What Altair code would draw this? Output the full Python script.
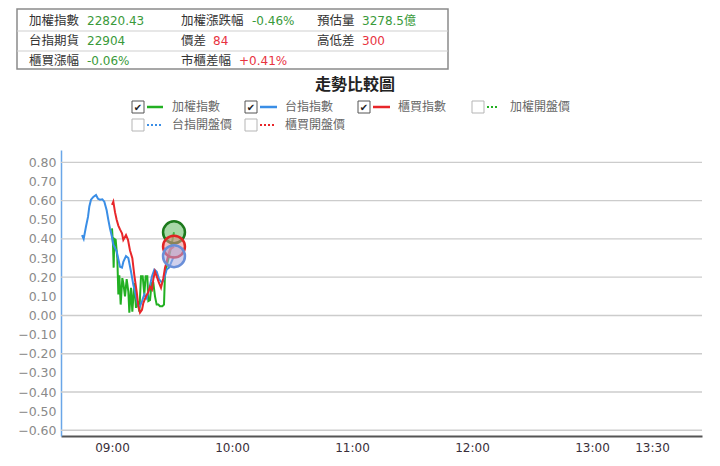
import altair as alt
import pandas as pd

# ---------------- data ----------------
DATE = "2024-01-02T"

# 台指指數 (blue)
blue_t = ["08:45:00", "08:45:50", "08:47:00", "08:48:00", "08:48:40", "08:49:30", "08:50:40", "08:52:00",
          "08:53:00", "08:54:00", "08:55:10", "08:56:10", "08:57:20", "08:58:10", "08:59:00", "09:00:00",
          "09:00:40", "09:02:20", "09:04:00", "09:05:00", "09:05:40", "09:07:00", "09:08:10", "09:09:30",
          "09:10:40", "09:12:00", "09:13:00", "09:13:40", "09:15:00", "09:16:10", "09:17:20", "09:18:30",
          "09:20:00", "09:21:10", "09:22:20", "09:23:30", "09:25:00", "09:26:10", "09:27:20", "09:28:30",
          "09:29:30", "09:31:00"]
blue_v = [0.42, 0.40, 0.465, 0.515, 0.57, 0.605, 0.62, 0.63, 0.61, 0.605, 0.607, 0.595, 0.55, 0.50, 0.455,
          0.41, 0.37, 0.335, 0.255, 0.25, 0.28, 0.31, 0.30, 0.23, 0.16, 0.10, 0.057, 0.04, 0.075, 0.11,
          0.09, 0.135, 0.205, 0.24, 0.23, 0.19, 0.17, 0.195, 0.24, 0.25, 0.275, 0.31]

# 櫃買指數 (red)
red_t = ["09:00:00", "09:00:40", "09:01:30", "09:02:20", "09:03:10", "09:04:00", "09:05:00", "09:05:40",
         "09:07:00", "09:08:00", "09:09:00", "09:10:10", "09:11:10", "09:12:20", "09:13:10", "09:14:00",
         "09:15:00", "09:15:40", "09:17:00", "09:18:00", "09:19:00", "09:20:00", "09:20:40", "09:21:30",
         "09:22:20", "09:23:30", "09:24:30", "09:25:40", "09:26:30", "09:27:20", "09:28:10", "09:29:00",
         "09:31:00"]
red_v = [0.578, 0.595, 0.54, 0.50, 0.47, 0.45, 0.43, 0.395, 0.42, 0.395, 0.34, 0.30, 0.21, 0.125, 0.05,
         0.015, 0.03, 0.065, 0.10, 0.12, 0.15, 0.135, 0.19, 0.23, 0.205, 0.17, 0.145, 0.195, 0.25, 0.28,
         0.32, 0.345, 0.36]

# 加權指數 (green)
green_t = ["09:00:00", "09:00:30", "09:00:50", "09:01:10", "09:01:50", "09:02:40", "09:03:10", "09:03:40",
           "09:04:20", "09:05:10", "09:05:40", "09:06:30", "09:07:20", "09:08:10", "09:08:40", "09:09:30",
           "09:10:10", "09:11:10", "09:12:00", "09:12:50", "09:13:40", "09:14:30", "09:15:20", "09:16:10",
           "09:16:50", "09:17:40", "09:18:10", "09:19:00", "09:19:50", "09:20:40", "09:21:30", "09:22:20",
           "09:23:10", "09:24:00", "09:25:10", "09:26:00", "09:26:30", "09:29:00", "09:31:00"]
green_v = [0.455, 0.37, 0.25, 0.40, 0.395, 0.30, 0.11, 0.21, 0.057, 0.195, 0.17, 0.10, 0.19, 0.125, 0.015,
           0.145, 0.02, 0.17, 0.04, 0.075, 0.02, 0.205, 0.205, 0.11, 0.205, 0.205, 0.075, 0.08, 0.17, 0.17,
           0.10, 0.057, 0.057, 0.048, 0.048, 0.057, 0.22, 0.33, 0.435]

x_ticks = ["09:00", "10:00", "11:00", "12:00", "13:00", "13:30"]
y_labels = [-0.6, -0.5, -0.4, -0.3, -0.2, -0.1, 0.0, 0.1, 0.2, 0.3, 0.4, 0.5, 0.6, 0.7, 0.8]
y_grid = [-0.6, -0.4, -0.2, 0.0, 0.2, 0.4, 0.6, 0.8]

table_labels = [["加權指數", "加權漲跌幅", "預估量"],
                ["台指期貨", "價差", "高低差"],
                ["櫃買漲幅", "市櫃差幅"]]
table_values = [["22820.43", "-0.46%", "3278.5億"],
                ["22904", "84", "300"],
                ["-0.06%", "+0.41%"]]
table_value_up = [[False, False, False],
                  [False, True, True],
                  [False, True]]

chart_title = "走勢比較圖"
legend_names = ["加權指數", "台指指數", "櫃買指數", "加權開盤價", "台指開盤價", "櫃買開盤價"]
legend_checked = [True, True, True, False, False, False]

# ---------------- styles / layout ----------------
GREEN = "#22b022"
BLUE = "#3a8ee6"
RED = "#e8262a"
VAL_GREEN = "#3a9a3a"
VAL_RED = "#e8333f"
CJK = "Noto Sans CJK TC"
LATIN = "DejaVu Sans, Noto Sans CJK TC"

W, H = 641, 286
OX, OY = 61, 150   # page position of the plot origin


def dt(hhmm):
    parts = [int(p) for p in hhmm.split(":")]
    while len(parts) < 3:
        parts.append(0)
    return alt.DateTime(year=2024, month=1, date=2, hours=parts[0], minutes=parts[1], seconds=parts[2])


xscale = alt.Scale(domain=[dt("08:34:30"), dt("13:55:00")])
yscale = alt.Scale(domain=[-0.63, 0.865], nice=False, zero=False)

xaxis = alt.Axis(values=[dt(t) for t in x_ticks], format="%H:%M", ticks=False, grid=False,
                 domainColor="#555555", domainWidth=2, labelColor="#3a2f3a", labelFontSize=12,
                 labelFont="DejaVu Sans", labelPadding=6, title=None, labelFlush=False)
yaxis = alt.Axis(values=y_labels, format=".2f", ticks=False, grid=False, domainColor="#6aa6e8",
                 domainWidth=1.5, labelColor="#8a8a8a", labelFontSize=12.5, labelFont="DejaVu Sans",
                 labelPadding=5, title=None)

X_ENC = alt.X("t:T", scale=xscale, axis=xaxis, title=None)
Y_ENC = alt.Y("v:Q", scale=yscale, axis=yaxis, title=None)


def series_df(ts, vs):
    return pd.DataFrame({"t": [DATE + t for t in ts], "v": vs})


def one():
    return pd.DataFrame({"k": [0]})


def txt(s, X, Y, color="#333333", size=12.5, font=CJK, weight="normal", align="left"):
    return alt.Chart(pd.DataFrame({"s": [s]})).mark_text(
        align=align, baseline="middle", color=color, fontSize=size, font=font, fontWeight=weight
    ).encode(x=alt.value(X - OX), y=alt.value(Y - OY), text="s:N")


def hline(X1, X2, Y, color, width=1.0, dash=None):
    kw = dict(color=color, strokeWidth=width)
    if dash:
        kw["strokeDash"] = dash
    return alt.Chart(one()).mark_rule(**kw).encode(
        x=alt.value(X1 - OX), x2=alt.value(X2 - OX), y=alt.value(Y - OY))


def box(X1, Y1, X2, Y2, stroke, width=1.0):
    return alt.Chart(one()).mark_rect(fill="#ffffff", stroke=stroke, strokeWidth=width).encode(
        x=alt.value(X1 - OX), x2=alt.value(X2 - OX), y=alt.value(Y1 - OY), y2=alt.value(Y2 - OY))


layers = []

# ---- series lines (first layer carries the axes) ----
green_line = alt.Chart(series_df(green_t, green_v)).mark_line(color=GREEN, strokeWidth=2).encode(
    x=X_ENC, y=Y_ENC)
blue_line = alt.Chart(series_df(blue_t, blue_v)).mark_line(color=BLUE, strokeWidth=2).encode(
    x=X_ENC, y=Y_ENC)
red_line = alt.Chart(series_df(red_t, red_v)).mark_line(color=RED, strokeWidth=2).encode(
    x=X_ENC, y=Y_ENC)

# ---- grid lines ----
grid = alt.Chart(pd.DataFrame({"v": y_grid})).mark_rule(color="#cccccc", strokeWidth=1.3).encode(
    y=Y_ENC, x=alt.value(0), x2=alt.value(W))

layers += [grid, green_line, blue_line, red_line]

# ---- end-point circles ----
for ts, vs, fill, stroke in [(green_t, green_v, "#5fb85f", "#1c7a1c"),
                             (red_t, red_v, "#e88a8a", "#e02424"),
                             (blue_t, blue_v, "#a9a9dc", "#6a8fd8")]:
    c = alt.Chart(series_df(ts[-1:], vs[-1:])).mark_point(
        shape="circle", fill=fill, fillOpacity=0.55, stroke=stroke, strokeWidth=2.5, size=480, opacity=1
    ).encode(x=X_ENC, y=Y_ENC)
    layers.append(c)

# ---- header table ----
layers.append(box(17, 9, 448, 69, "#8a8a8a", 1.5))
layers.append(hline(17, 448, 31, "#cfcfcf", 1))
layers.append(hline(17, 448, 51, "#cfcfcf", 1))
row_y = [21, 41, 61]
label_x = [29, 181, 317]
value_x = [[87, 252, 362], [87, 213, 362], [87, 239]]
for r, labels in enumerate(table_labels):
    for c, lab in enumerate(labels):
        layers.append(txt(lab, label_x[c], row_y[r], "#333333", 12.5, CJK))
        col = VAL_RED if table_value_up[r][c] else VAL_GREEN
        layers.append(txt(table_values[r][c], value_x[r][c], row_y[r], col, 12, LATIN))

# ---- title ----
layers.append(txt(chart_title, 355, 85, "#222222", 16, CJK, "bold", "center"))

# ---- legend ----
leg_pos = [(107, 132, 147, 163, 172), (107, 245, 260, 277, 285), (107, 358, 373, 390, 398),
           (107, 472, 487, 499, 510), (125, 132, 147, 163, 172), (125, 245, 260, 275, 285)]
leg_colors = [GREEN, BLUE, RED, GREEN, BLUE, RED]
for i, name in enumerate(legend_names):
    Y, bx, l1, l2, tx = leg_pos[i]
    checked = legend_checked[i]
    layers.append(box(bx, Y - 6, bx + 12, Y + 6, "#555555" if checked else "#b5b5b5", 1))
    if checked:
        layers.append(txt("✔", bx + 6, Y + 0.5, "#222222", 10, "DejaVu Sans", "normal", "center"))
        layers.append(hline(l1, l2, Y, leg_colors[i], 2.5))
    else:
        layers.append(hline(l1, l2, Y, leg_colors[i], 2, [2, 2]))
    layers.append(txt(name, tx, Y, "#666666", 12, CJK))

chart = alt.layer(*layers).properties(
    width=W, height=H,
    autosize=alt.AutoSizeParams(type="none"),
    padding={"left": OX - 8, "top": OY - 8, "right": 10, "bottom": 22},
    background="#ffffff",
).configure_view(stroke=None)

chart.save("out.html", embed_options={"renderer": "svg", "actions": False})
